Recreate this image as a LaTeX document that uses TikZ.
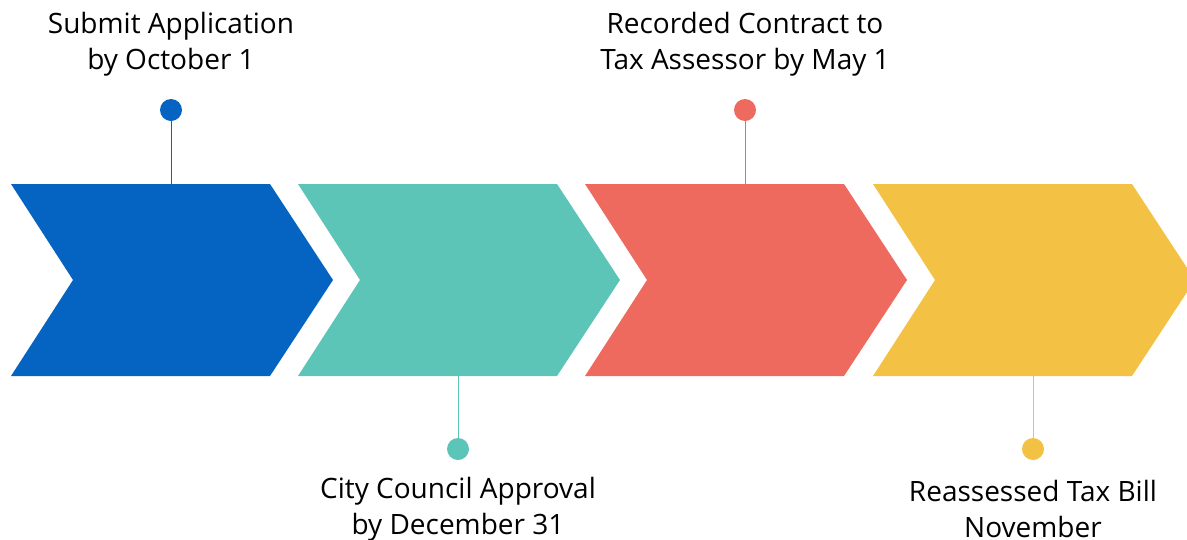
\documentclass[tikz,border=0pt]{standalone}
\usepackage{fontspec}
\setmainfont{Open Sans}
\definecolor{stepblue}{HTML}{0563C1}
\definecolor{stepteal}{HTML}{5CC5B7}
\definecolor{stepred}{HTML}{EE6A5E}
\definecolor{stepyellow}{HTML}{F3C143}
\tikzstyle{dot}=[circle,inner sep=0pt,minimum size=22pt]
\tikzstyle{stem}=[draw,line width=1pt]
\tikzstyle{steptext}=[align=center,inner sep=0pt,font=\fontsize{28}{36}\selectfont]

\begin{document}
\begin{tikzpicture}[x=1pt, y=-1pt]
    \useasboundingbox (0,0) rectangle (1187,539);
    % First we draw the chevrons
    \foreach \x/\col/\name in {11/stepblue/a, 298/stepteal/b, 585/stepred/c, 873/stepyellow/d}{
        \fill[\col] (\x,184) -- ++(259,0) -- ++(63,96) -- ++(-63,96) -- ++(-259,0) -- ++(62,-96) -- cycle;
        \coordinate (top\name) at ({\x+160},184);
        \coordinate (bot\name) at ({\x+160},376);
    }
    % Dots, stems and captions
    \foreach \name/\col/\side/\y/\ty/\txt in {a/stepblue/top/110/44/{Submit Application\\by October 1},
                                              b/stepteal/bot/449/509/{City Council Approval\\by December 31},
                                              c/stepred/top/110/44/{Recorded Contract to\\Tax Assessor by May 1},
                                              d/stepyellow/bot/449/509/{Reassessed Tax Bill\\November}}{
        \node[dot,fill=\col] (dot\name) at (\side\name |- 0,\y) {};
        \path[stem,\col] (dot\name) -- (\side\name);
        \node[steptext] (txt\name) at (\side\name |- 0,\ty) {\txt};
    }
\end{tikzpicture}
\end{document}
